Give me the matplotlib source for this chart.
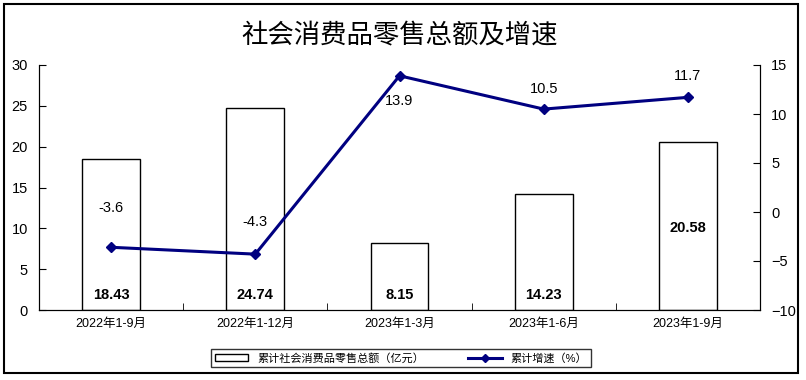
import matplotlib.pyplot as plt
import numpy as np
from matplotlib.patches import Rectangle
from matplotlib.lines import Line2D

plt.rcParams['font.family'] = ['Liberation Sans', 'Noto Sans CJK SC', 'DejaVu Sans']

periods = ['2022年1-9月', '2022年1-12月', '2023年1-3月', '2023年1-6月', '2023年1-9月']
sales = [18.43, 24.74, 8.15, 14.23, 20.58]
growth = [-3.6, -4.3, 13.9, 10.5, 11.7]

fig = plt.figure(figsize=(8.06, 3.8), dpi=100)
ax = fig.add_axes([39 / 806, 1 - 310 / 380, 721 / 806, 245 / 380])
ax2 = ax.twinx()

x = np.arange(len(periods))
ax.bar(x, sales, width=0.4, color='white', edgecolor='black', linewidth=1)
ax.set_xlim(-0.5, len(periods) - 0.5)
ax.set_ylim(0, 30)
ax.set_yticks(range(0, 31, 5))
ax.set_xticks(x)
ax.set_xticklabels(periods, fontsize=9)
ax.set_xticks(np.arange(len(periods) + 1) - 0.5, minor=True)
ax.tick_params(axis='x', which='major', length=0, pad=6)
ax.tick_params(axis='x', which='minor', direction='in', length=5)
ax.tick_params(axis='y', direction='in', length=5, labelsize=10.5, pad=8)

# bar value labels
bar_label_y = [1.8, 1.8, 1.8, 1.8, 10]
for i, v in enumerate(sales):
    ax.text(i, bar_label_y[i], f'{v:.2f}', ha='center', va='center',
            fontsize=10.5, fontweight='bold')

ax2.plot(x, growth, color='#000080', linewidth=2.2, marker='D', markersize=5)
ax2.set_ylim(-10, 15)
ax2.set_yticks(range(-10, 16, 5))
ax2.tick_params(axis='y', direction='in', length=5, labelsize=10.5, pad=8)

offsets = [39, 32, -25, 20, 21]
for i, v in enumerate(growth):
    ax2.annotate(f'{v}', (i, v), xytext=(0, offsets[i] * 0.72), textcoords='offset points',
                 ha='center', va='center', fontsize=10.5)

for a in (ax, ax2):
    a.spines['top'].set_visible(False)

fig.text(400 / 806, 1 - 35 / 380, '社会消费品零售总额及增速', ha='center', va='center',
         fontsize=19, family='Noto Sans CJK SC')

handles = [Rectangle((0, 0), 1, 1, facecolor='white', edgecolor='black'),
           Line2D([], [], color='#000080', linewidth=2.2, marker='D', markersize=4)]
leg = fig.legend(handles, ['累计社会消费品零售总额（亿元）', '累计增速（%）'],
                 loc='center', bbox_to_anchor=(401 / 806, 1 - 358 / 380), ncol=2,
                 fontsize=8, frameon=True, fancybox=False, edgecolor='black',
                 borderpad=0.3, columnspacing=4, handlelength=3)
leg.get_frame().set_linewidth(1)

fig.patches.append(Rectangle((4 / 806, 7 / 380), 794 / 806, 369 / 380, transform=fig.transFigure,
                             fill=False, edgecolor='black', linewidth=1.5))

fig.savefig('out.png', dpi=100)
